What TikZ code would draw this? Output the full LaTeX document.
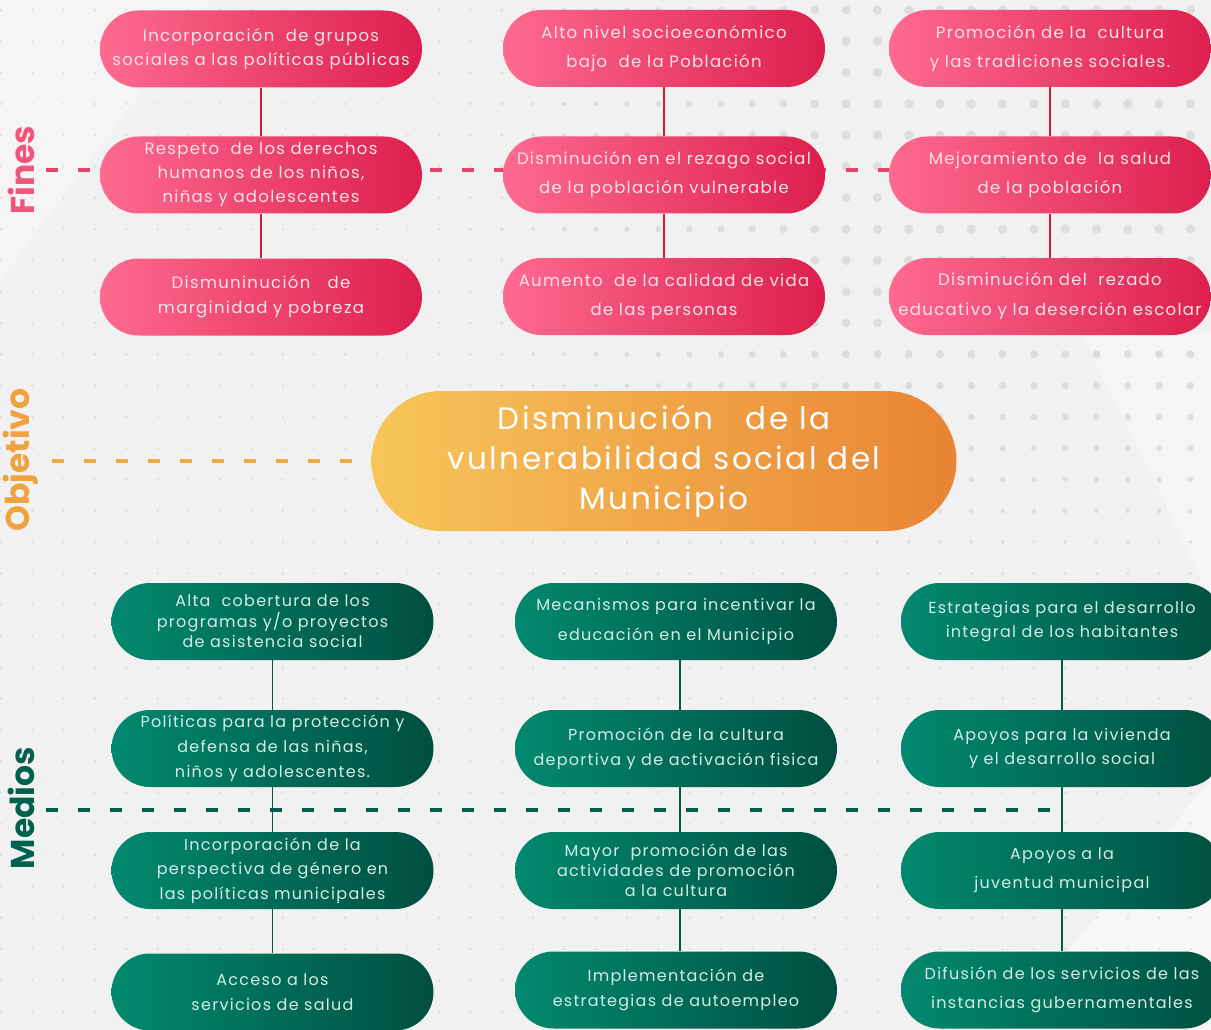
\documentclass[tikz,border=0pt]{standalone}
\usepackage{fontspec}
\setmainfont{Poppins}[LetterSpace=8]
\newfontfamily\labelfont{Poppins}
\definecolor{bg}{HTML}{F1F1F1}
\definecolor{dotc}{HTML}{DDDDDD}
\definecolor{pinkL}{HTML}{FE6A90}
\definecolor{pinkR}{HTML}{DD1F4D}
\definecolor{pinkT}{HTML}{FBE1E8}
\definecolor{pinkLine}{HTML}{C81E3E}
\definecolor{pinkDash}{HTML}{E5446B}
\definecolor{orL}{HTML}{F7C65A}
\definecolor{orR}{HTML}{E98434}
\definecolor{orDash}{HTML}{F2A845}
\definecolor{grL}{HTML}{02896F}
\definecolor{grR}{HTML}{004F40}
\definecolor{grT}{HTML}{D3ECE6}
\definecolor{grLine}{HTML}{005A48}
\definecolor{grDash}{HTML}{00604E}
\definecolor{finesC}{HTML}{F2557C}
\definecolor{objC}{HTML}{F0A23F}
\definecolor{medC}{HTML}{00614F}
\tikzset{
  pbox/.style={shape=rectangle, rounded corners=38.5pt, minimum width=322pt, minimum height=77pt,
    left color=pinkL, right color=pinkR, draw=none, text=pinkT, align=center, inner sep=0pt,
    font=\fontsize{16.5}{24}\selectfont},
  gbox/.style={shape=rectangle, rounded corners=38.5pt, minimum width=322pt, minimum height=77pt,
    left color=grL, right color=grR, draw=none, text=grT, align=center, inner sep=0pt,
    font=\fontsize{16}{24}\selectfont},
  obox/.style={shape=rectangle, rounded corners=70pt, minimum width=585pt, minimum height=140pt,
    left color=orL, right color=orR, draw=none, text=white, align=center, inner sep=0pt,
    font=\fontsize{31}{40}\selectfont},
  plink/.style={draw=pinkLine, line width=1.2pt},
  glink/.style={draw=grLine, line width=1.2pt},
  sidelabel/.style={rotate=90, font=\labelfont\bfseries\fontsize{33}{33}\selectfont},
  dashline/.style={line width=4pt, dash pattern=on 12pt off 20pt}
}
\begin{document}
\begin{tikzpicture}[x=1pt,y=-1pt]
\useasboundingbox (0,0) rectangle (1211,1030);
\clip (0,0) rectangle (1211,1030);
\fill[bg] (0,0) rectangle (1211,1030);
% light diagonal shapes
\fill[white,opacity=0.35] (0,0) -- (210,0) -- (0,280) -- cycle;
\fill[white,opacity=0.45] (1211,780) -- (1211,1030) -- (1000,1030) -- cycle;
\fill[white,opacity=0.3] (1080,330) -- (1211,330) -- (1211,600) -- cycle;
% dot grid
\foreach \i in {0,...,38}{
  \foreach \j in {0,...,32}{
    \pgfmathsetmacro{\xx}{1+31.3*\i}
    \pgfmathsetmacro{\yy}{10+31.3*\j}
    \pgfmathsetmacro{\rr}{1.3+3.3*min(1,max(0,(\xx-450)/400))*min(1,max(0,(600-\yy)/300))}
    \fill[dotc] (\xx,\yy) circle[radius=\rr pt];
  }
}
% dashed guide lines
\coordinate (fd0) at (46,170);
\coordinate (fd1) at (889,170);
\coordinate (od0) at (52,461);
\coordinate (od1) at (372,461);
\coordinate (md0) at (46,810);
\coordinate (md1) at (1062,810);
\draw[dashline, pinkDash] (fd0) -- (fd1);
\draw[dashline, orDash] (od0) -- (od1);
\draw[dashline, grDash, line width=3.6pt] (md0) -- (md1);
% side labels
\node[sidelabel, text=finesC] (lfines) at (21,170) {Fines};
\node[sidelabel, text=objC] (lobj) at (21,460) {Objetivo};
\node[sidelabel, text=medC] (lmed) at (21,808) {Medios};
% Fines boxes
\node[pbox] (f11) at (261,49) {Incorporación\ \ de grupos\\sociales a las políticas públicas};
\node[pbox, font=\fontsize{16.5}{29}\selectfont] (f12) at (664,48.5) {Alto nivel socioeconómico\\bajo\ \ de la Población};
\node[pbox, font=\fontsize{16.5}{29}\selectfont] (f13) at (1050,48.5) {Promoción de la\ \ cultura\\y las tradiciones sociales.};
\node[pbox] (f21) at (261,175) {Respeto\ \ de los derechos\\humanos de los niños,\\niñas y adolescentes};
\node[pbox, font=\fontsize{16.5}{29}\selectfont] (f22) at (664,175) {Disminución en el rezago social\\de la población vulnerable};
\node[pbox, font=\fontsize{16.5}{29}\selectfont] (f23) at (1050,175) {Mejoramiento de\ \ la salud\\de la población};
\node[pbox, font=\fontsize{16.5}{25}\selectfont] (f31) at (261,297) {Dismuninución \ \ de\\marginidad y pobreza};
\node[pbox, font=\fontsize{16.5}{29}\selectfont] (f32) at (664,296.5) {Aumento\ \ de la calidad de vida\\de las personas};
\node[pbox, font=\fontsize{16.5}{30}\selectfont] (f33) at (1050,296.5) {Disminución del \ rezado\\educativo y la deserción escolar};
\draw[plink] (f11) -- (f21);
\draw[plink] (f21) -- (f31);
\draw[plink] (f12) -- (f22);
\draw[plink] (f22) -- (f32);
\draw[plink] (f13) -- (f23);
\draw[plink] (f23) -- (f33);
% Objective
\node[obox] (obj) at (664,461) {Disminución \ \ de la\\vulnerabilidad social del\\Municipio};
% Medios boxes
\node[gbox, font=\fontsize{16}{20.5}\selectfont] (m11) at (272.5,621.5) {Alta\ \ cobertura de los\\programas y/o proyectos\\de asistencia social};
\node[gbox, font=\fontsize{16}{30}\selectfont] (m12) at (676,621.5) {Mecanismos para incentivar la\\educación en el Municipio};
\node[gbox] (m13) at (1062,621.5) {Estrategias para el desarrollo\\integral de los habitantes};
\node[gbox, font=\fontsize{16}{25}\selectfont] (m21) at (272.5,748.5) {Políticas para la protección y\\defensa de las niñas,\\niños y adolescentes.};
\node[gbox, font=\fontsize{16}{25}\selectfont] (m22) at (676,748.5) {Promoción de la cultura\\deportiva y de activación fisica};
\node[gbox] (m23) at (1062,748.5) {Apoyos para la vivienda\\y el desarrollo social};
\node[gbox, font=\fontsize{16}{24.5}\selectfont] (m31) at (272.5,870.5) {Incorporación de la\\perspectiva de género en\\las políticas municipales};
\node[gbox, font=\fontsize{16}{20}\selectfont] (m32) at (676,870.5) {Mayor\ \ promoción de las\\actividades de promoción\\a la cultura};
\node[gbox, font=\fontsize{16}{29}\selectfont] (m33) at (1062,870.5) {Apoyos a la\\juventud municipal};
\node[gbox, font=\fontsize{16}{25}\selectfont] (m41) at (272.5,992) {Acceso a los\\servicios de salud};
\node[gbox, font=\fontsize{16}{25}\selectfont] (m42) at (676,990) {Implementación de\\estrategias de autoempleo};
\node[gbox, font=\fontsize{16}{29}\selectfont] (m43) at (1062,990) {Difusión de los servicios de las\\instancias gubernamentales};
\draw[glink] (m11) -- (m21);
\draw[glink] (m21) -- (m31);
\draw[glink] (m31) -- (m41);
\draw[glink] ([xshift=4pt]m12.south) -- ([xshift=4pt]m22.north);
\draw[glink] ([xshift=4pt]m22.south) -- ([xshift=4pt]m32.north);
\draw[glink] ([xshift=4pt]m32.south) -- ([xshift=4pt]m42.north);
\draw[glink] (m13) -- (m23);
\draw[glink] (m23) -- (m33);
\draw[glink] (m33) -- (m43);
\end{tikzpicture}
\end{document}
